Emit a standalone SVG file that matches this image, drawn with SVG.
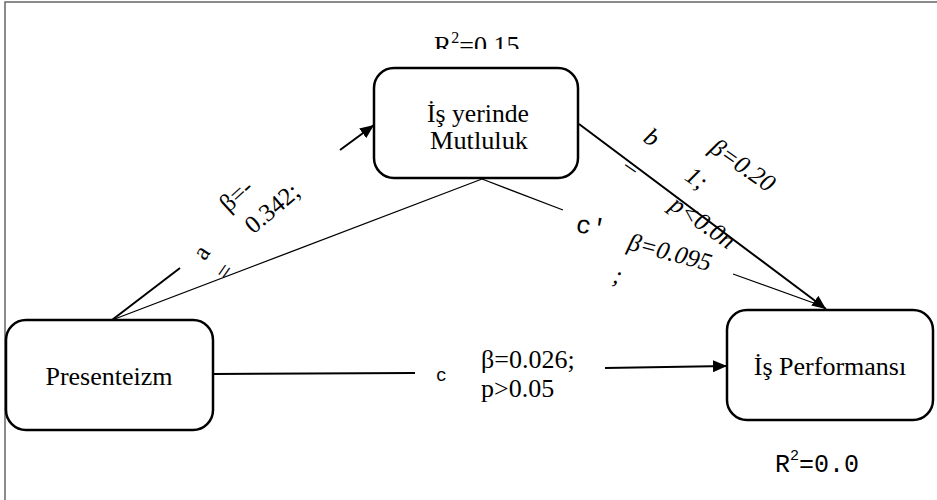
<svg xmlns="http://www.w3.org/2000/svg" width="937" height="500" viewBox="0 0 937 500">
<style>
.node rect{fill:#fff;stroke:#000;stroke-width:2.5}
.serif{font-family:"Liberation Serif","Times New Roman",serif;fill:#000}
.mono{font-family:"Liberation Mono","Courier New",monospace;fill:#000}
.ntext{font-size:26px;text-anchor:middle}
.lbl{font-size:25px;text-anchor:middle;dominant-baseline:central}
.thick{stroke:#000;stroke-width:2;fill:none}
.thin{stroke:#000;stroke-width:1.3;fill:none}
</style>
<defs>
<marker id="ah" markerUnits="userSpaceOnUse" markerWidth="14" markerHeight="12" refX="14" refY="6" orient="auto">
<path d="M0,0 L14,6 L0,12 z" fill="#000"/>
</marker>
<clipPath id="topclip"><rect x="0" y="0" width="937" height="49"/></clipPath>
</defs>
<rect x="0" y="0" width="937" height="500" fill="#fff"/>
<path d="M5,500 L5,2 L937,2" fill="none" stroke="#666" stroke-width="1.5"/>

<g id="connectors">
<line class="thin" x1="112" y1="320" x2="482" y2="179"/>
<line class="thick" x1="112" y1="320" x2="180" y2="268"/>
<line class="thick" x1="340" y1="150" x2="374" y2="125" marker-end="url(#ah)"/>
<line class="thick" x1="579" y1="124" x2="826" y2="309" marker-end="url(#ah)"/>
<line class="thin" x1="482" y1="179" x2="563" y2="210"/>
<line class="thin" x1="733" y1="274" x2="822" y2="306"/>
<line class="thick" x1="213" y1="374" x2="415" y2="373"/>
<line class="thick" x1="605" y1="368" x2="727" y2="366" marker-end="url(#ah)"/>
</g>

<g id="presenteizm" class="node">
<rect x="6" y="320" width="207" height="110" rx="20"/>
<text class="serif ntext" x="109" y="385">Presenteizm</text>
</g>
<g id="mutluluk" class="node">
<rect x="374" y="68" width="204" height="110" rx="20"/>
<text class="serif ntext" font-size="24" x="478" y="122" textLength="102" lengthAdjust="spacingAndGlyphs">İş yerinde</text>
<text class="serif ntext" font-size="24" x="479" y="149" textLength="98" lengthAdjust="spacingAndGlyphs">Mutluluk</text>
</g>
<g id="performans" class="node">
<rect x="727" y="310" width="206" height="110" rx="20"/>
<text class="serif ntext" x="830" y="375">İş Performansı</text>
</g>

<g id="labels">
<text class="serif" font-size="26" x="434" y="54" clip-path="url(#topclip)">R<tspan font-size="16" dy="-11">2</tspan><tspan dy="11">=0.15</tspan></text>

<text class="serif lbl" font-size="24" transform="translate(201,252) rotate(-55)">a</text>
<text class="serif lbl" font-size="18" transform="translate(224,271) rotate(-55)">=</text>
<text class="serif lbl" font-size="26" transform="translate(236,195) rotate(-42)">β=-</text>
<text class="serif lbl" font-size="26" transform="translate(272,208) rotate(-40)">0.342;</text>

<text class="serif lbl" font-style="italic" transform="translate(652,137) rotate(35)">b</text>
<text class="serif lbl" transform="translate(632,166) rotate(35)">–</text>
<text class="serif lbl" font-size="26" font-style="italic" transform="translate(743,165) rotate(35)">β=0.20</text>
<text class="serif lbl" font-style="italic" transform="translate(697,178) rotate(35)">1;</text>
<text class="serif lbl" font-size="26" font-style="italic" transform="translate(703,222) rotate(35)">p&lt;0.0n</text>

<text class="mono lbl" font-size="18" transform="translate(591,228) rotate(10)">c'</text>
<text class="serif lbl" font-size="27" font-style="italic" transform="translate(670,252) rotate(15)">β=0.095</text>
<text class="serif lbl" font-style="italic" transform="translate(618,275) rotate(15)">;</text>

<text class="mono" font-size="18" x="436" y="381">c</text>
<text class="serif" font-size="26" x="481" y="368">β=0.026;</text>
<text class="serif" font-size="26" x="481" y="397">p&gt;0.05</text>

<text class="mono" font-size="25" x="775" y="472">R<tspan font-size="15" dy="-12">2</tspan><tspan dy="12">=0.0</tspan></text>
</g>
</svg>
